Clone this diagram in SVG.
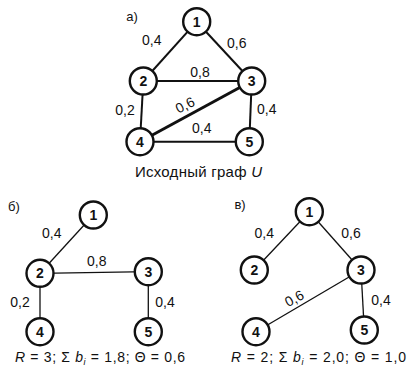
<svg xmlns="http://www.w3.org/2000/svg" width="416" height="372" viewBox="0 0 416 372">
<style>
.n circle{fill:#fff;stroke:#111;stroke-width:2.4}
.n text{font-family:"Liberation Sans",Arial,sans-serif;font-weight:bold;font-size:14px;text-anchor:middle;fill:#111}
.e line{stroke:#111;stroke-width:1.3}
.ea line{stroke:#111;stroke-width:2}
.l{font-family:"Liberation Sans",Arial,sans-serif;font-size:14px;fill:#111;text-anchor:middle}
.c{font-family:"Liberation Sans",Arial,sans-serif;font-size:14px;fill:#111}
</style>
<rect width="416" height="372" fill="#fff"/>
<g id="connectors">
<g class="ea">
<line x1="196.7" y1="21.7" x2="143.3" y2="81"/>
<line x1="196.7" y1="21.7" x2="251.7" y2="81"/>
<line x1="143.3" y1="81" x2="251.7" y2="81"/>
<line x1="143.3" y1="81" x2="140" y2="141.7"/>
<line x1="251.7" y1="81" x2="249.3" y2="141.7"/>
<line x1="140" y1="141.7" x2="249.3" y2="141.7"/>
<line x1="140" y1="141.7" x2="251.7" y2="81" style="stroke-width:3"/>
</g>
<g class="e">
<line x1="93.3" y1="215" x2="40" y2="273.3"/>
<line x1="40" y1="273.3" x2="148.3" y2="271.7"/>
<line x1="40" y1="273.3" x2="40" y2="331.7"/>
<line x1="148.3" y1="271.7" x2="148.3" y2="331.7"/>
<line x1="309.3" y1="211.7" x2="254.3" y2="270"/>
<line x1="309.3" y1="211.7" x2="361" y2="270"/>
<line x1="361" y1="270" x2="256" y2="331.7"/>
<line x1="361" y1="270" x2="364.3" y2="330"/>
</g>
</g>
<g id="a-n1" class="n"><circle cx="196.7" cy="21.7" r="13.5"/><text x="196.7" y="26.7">1</text></g>
<g id="a-n2" class="n"><circle cx="143.3" cy="81" r="13.5"/><text x="143.3" y="86">2</text></g>
<g id="a-n3" class="n"><circle cx="251.7" cy="81" r="13.5"/><text x="251.7" y="86">3</text></g>
<g id="a-n4" class="n"><circle cx="140" cy="141.7" r="13.5"/><text x="140" y="146.7">4</text></g>
<g id="a-n5" class="n"><circle cx="249.3" cy="141.7" r="13.5"/><text x="249.3" y="146.7">5</text></g>
<g id="b-n1" class="n"><circle cx="93.3" cy="215" r="13.5"/><text x="93.3" y="220">1</text></g>
<g id="b-n2" class="n"><circle cx="40" cy="273.3" r="13.5"/><text x="40" y="278.3">2</text></g>
<g id="b-n3" class="n"><circle cx="148.3" cy="271.7" r="13.5"/><text x="148.3" y="276.7">3</text></g>
<g id="b-n4" class="n"><circle cx="40" cy="331.7" r="13.5"/><text x="40" y="336.7">4</text></g>
<g id="b-n5" class="n"><circle cx="148.3" cy="331.7" r="13.5"/><text x="148.3" y="336.7">5</text></g>
<g id="c-n1" class="n"><circle cx="309.3" cy="211.7" r="13.5"/><text x="309.3" y="216.7">1</text></g>
<g id="c-n2" class="n"><circle cx="254.3" cy="270" r="13.5"/><text x="254.3" y="275">2</text></g>
<g id="c-n3" class="n"><circle cx="361" cy="270" r="13.5"/><text x="361" y="275">3</text></g>
<g id="c-n4" class="n"><circle cx="256" cy="331.7" r="13.5"/><text x="256" y="336.7">4</text></g>
<g id="c-n5" class="n"><circle cx="364.3" cy="330" r="13.5"/><text x="364.3" y="335">5</text></g>
<g id="labels">
<text class="l" x="132" y="21" style="font-size:13px">а)</text>
<text class="l" x="151.7" y="45">0,4</text>
<text class="l" x="236.7" y="48">0,6</text>
<text class="l" x="200" y="76.7">0,8</text>
<text class="l" x="125" y="115">0,2</text>
<text class="l" x="185" y="110" transform="rotate(-27 185 105)">0,6</text>
<text class="l" x="266.7" y="114">0,4</text>
<text class="l" x="201.7" y="133">0,4</text>
<text class="c" x="135" y="177" style="font-size:15px" textLength="127">Исходный граф <tspan font-style="italic">U</tspan></text>
<text class="l" x="14" y="211" style="font-size:13px">б)</text>
<text class="l" x="51.7" y="238.3">0,4</text>
<text class="l" x="96.7" y="266">0,8</text>
<text class="l" x="20" y="306.7">0,2</text>
<text class="l" x="165" y="306.7">0,4</text>
<text class="c" x="15" y="362" textLength="170"><tspan font-style="italic">R</tspan> = 3;  Σ <tspan font-style="italic">b</tspan><tspan font-style="italic" font-size="9" dy="3">i</tspan><tspan dy="-3"> = 1,8;  Θ = 0,6</tspan></text>
<text class="l" x="240" y="209" style="font-size:13px">в)</text>
<text class="l" x="264.3" y="238.3">0,4</text>
<text class="l" x="351" y="238.3">0,6</text>
<text class="l" x="294.3" y="303.3" transform="rotate(-28 294.3 298.3)">0,6</text>
<text class="l" x="381" y="305">0,4</text>
<text class="c" x="231" y="362" textLength="175"><tspan font-style="italic">R</tspan> = 2;  Σ <tspan font-style="italic">b</tspan><tspan font-style="italic" font-size="9" dy="3">i</tspan><tspan dy="-3"> = 2,0;  Θ = 1,0</tspan></text>
</g>
</svg>
